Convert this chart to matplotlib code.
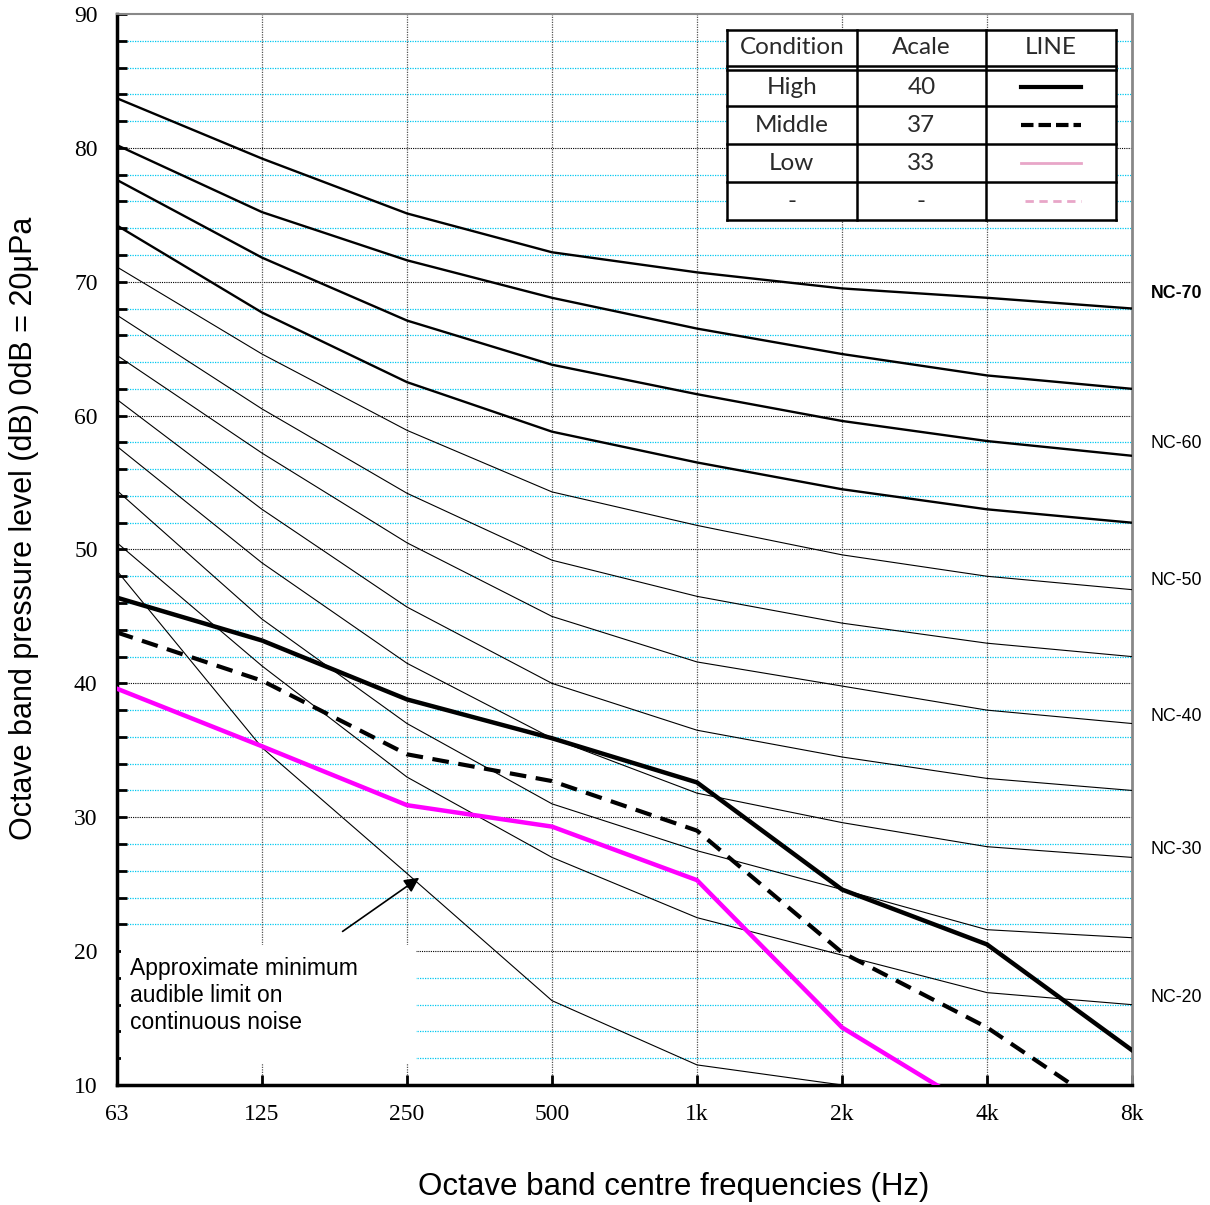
import numpy as np
import matplotlib.pyplot as plt

freq_labels = ['63', '125', '250', '500', '1k', '2k', '4k', '8k']

# NC curves, dB per octave band (63 .. 8k)
nc_70 = [83.7, 79.2, 75.1, 72.2, 70.7, 69.5, 68.8, 68.0]
nc_65 = [80.2, 75.2, 71.6, 68.8, 66.5, 64.6, 63.0, 62.0]
nc_60 = [77.6, 71.8, 67.1, 63.8, 61.6, 59.6, 58.1, 57.0]
nc_55 = [74.2, 67.7, 62.5, 58.8, 56.5, 54.5, 53.0, 52.0]
nc_50 = [71.1, 64.6, 58.9, 54.3, 51.8, 49.6, 48.0, 47.0]
nc_45 = [67.5, 60.5, 54.2, 49.2, 46.5, 44.5, 43.0, 42.0]
nc_40 = [64.5, 57.2, 50.5, 45.0, 41.6, 39.8, 38.0, 37.0]
nc_35 = [61.2, 53.0, 45.7, 40.0, 36.5, 34.5, 32.9, 32.0]
nc_30 = [57.7, 49.0, 41.5, 35.9, 31.8, 29.6, 27.8, 27.0]
nc_25 = [54.4, 44.8, 37.0, 31.0, 27.5, 24.6, 21.6, 21.0]
nc_20 = [50.5, 41.3, 33.0, 27.0, 22.5, 19.7, 16.9, 16.0]
nc_curves = [nc_70, nc_65, nc_60, nc_55, nc_50, nc_45,
             nc_40, nc_35, nc_30, nc_25, nc_20]
min_audible = [48.4, 35.2, 25.8, 16.3, 11.5, 10.0, 9.0, 8.0]

# measured spectra
high = [46.4, 43.2, 38.8, 35.9, 32.6, 24.6, 20.5, 12.6]
middle = [43.8, 40.2, 34.7, 32.7, 29.0, 19.9, 14.3, 7.0]
low = [39.6, 35.3, 30.9, 29.3, 25.3, 14.3, 7.7, 2.0]

side_labels = ['NC-70', 'NC-60', 'NC-50', 'NC-40', 'NC-30', 'NC-20']
side_label_y = [69.1, 57.9, 47.7, 37.5, 27.6, 16.5]

tbl_header = ['Condition', 'Acale', 'LINE']
tbl_cond = ['High', 'Middle', 'Low', '-']
tbl_acale = ['40', '37', '33', '-']

x = np.arange(len(freq_labels))

fig = plt.figure(figsize=(12.1, 12.05), dpi=100)
ax = fig.add_axes([0.0967, 0.0996, 0.8388, 0.8888])
ax.set_xlim(0, 7)
ax.set_ylim(10, 90)

# grid
for v in range(12, 90, 2):
	if v % 10 == 0:
		ax.axhline(v, color='black', lw=0.8, ls=(0, (1, 1)), zorder=1)
	else:
		ax.axhline(v, color='#00c8f0', lw=0.9, ls=(0, (1, 1)), zorder=1)
for xi in x[1:-1]:
	ax.axvline(xi, color='#555555', lw=0.9, ls=(0, (1, 1)), zorder=1)

# NC curves
for i, c in enumerate(nc_curves):
	lw = 1.7 if i < 4 else 0.8
	ax.plot(x, c, color='black', lw=lw, zorder=3)
ax.plot(x, min_audible, color='black', lw=0.8, zorder=3)

# white box behind the annotation text
box = plt.Rectangle((0.03, 11.65), 2.03, 8.8, facecolor='white', edgecolor='none', zorder=2)
ax.add_patch(box)
ax.text(0.09, 16.7, 'Approximate minimum\naudible limit on\ncontinuous noise',
	fontsize=16.5, family='Liberation Sans', va='center', ha='left', linespacing=1.22, zorder=4)
ax.annotate('', xy=(2.1, 25.6), xytext=(1.54, 21.35),
	arrowprops=dict(arrowstyle='-|>', color='black', lw=1.2, mutation_scale=22), zorder=4)

# measured lines
ax.plot(x, high, color='black', lw=3.2, zorder=5)
ax.plot(x, middle, color='black', lw=3.0, ls=(0, (4, 2.3)), zorder=5)
ax.plot(x, low, color='#ff00ff', lw=3.2, zorder=5)

# axes styling
ax.set_xticks(x)
ax.set_xticklabels(freq_labels, family='Liberation Serif', fontsize=17)
ax.set_yticks(range(10, 91, 10))
ax.set_yticklabels([str(v) for v in range(10, 91, 10)], family='Liberation Serif', fontsize=17)
ax.set_yticks(range(10, 91, 2), minor=True)
ax.tick_params(axis='y', which='both', direction='in', length=7, width=2, pad=14)
ax.tick_params(axis='x', which='major', direction='in', length=7, width=2, pad=14)
ax.spines['left'].set_linewidth(2.5)
ax.spines['bottom'].set_linewidth(2.5)
ax.spines['top'].set_color('#888888')
ax.spines['right'].set_color('#888888')
ax.spines['top'].set_linewidth(1.5)
ax.spines['right'].set_linewidth(2)

ax.set_xlabel('Octave band centre frequencies (Hz)', family='Liberation Sans', fontsize=22.5)
ax.set_ylabel('Octave band pressure level (dB) 0dB = 20\u03bcPa', family='Liberation Sans', fontsize=22)
ax.xaxis.set_label_coords(0.548, -0.081)
ax.yaxis.set_label_coords(-0.077, 0.52)

for lab, yv in zip(side_labels, side_label_y):
	ax.text(7.13, yv, lab, family='Liberation Sans', fontsize=12.8, va='center', ha='left',
		fontweight='bold' if lab == 'NC-70' else 'normal', clip_on=False)

# legend table
tax = fig.add_axes([727 / 1210, 1 - 220 / 1205, 389 / 1210, 190 / 1205])
tax.set_xlim(0, 3)
tax.set_ylim(0, 5)
tax.invert_yaxis()
tax.axis('off')
tax.add_patch(plt.Rectangle((0, 0), 3, 5, facecolor='white', edgecolor='none'))
for cx in [0, 1, 2, 3]:
	tax.plot([cx, cx], [0, 5], color='black', lw=1.8, clip_on=False)
for ry in [0, 0.95, 1.05, 2, 3, 4, 5]:
	tax.plot([0, 3], [ry, ry], color='black', lw=1.8, clip_on=False)
tfont = dict(family='Lato', fontsize=17.5, color='#2a2a2a', ha='center', va='center')
for j, h in enumerate(tbl_header):
	tax.text(j + 0.5, 0.47, h, **tfont)
for i in range(4):
	tax.text(0.5, 1.52 + i, tbl_cond[i], **tfont)
	tax.text(1.5, 1.52 + i, tbl_acale[i], **tfont)
tax.plot([2.27, 2.73], [1.5, 1.5], color='black', lw=3)
tax.plot([2.27, 2.73], [2.5, 2.5], color='black', lw=3, ls=(0, (3, 1.2)))
tax.plot([2.27, 2.73], [3.5, 3.5], color='#e8a6c8', lw=2)
tax.plot([2.3, 2.73], [4.5, 4.5], color='#e8a6c8', lw=2, ls=(0, (3, 2)))

fig.savefig('out.png', dpi=100)
